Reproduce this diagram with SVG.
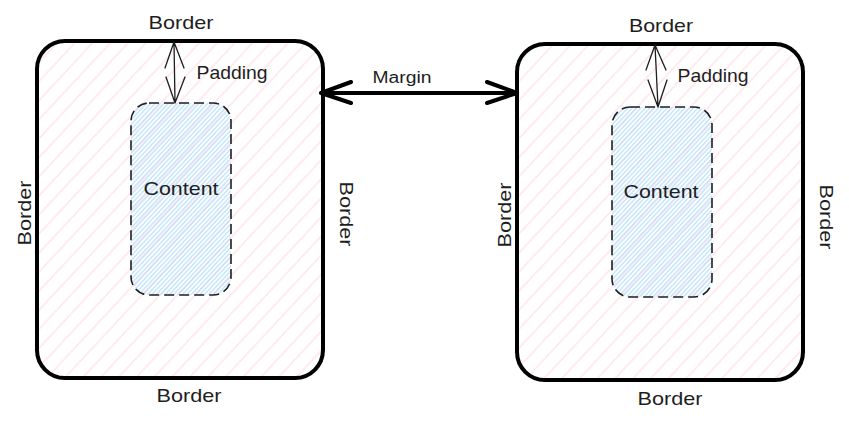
<svg xmlns="http://www.w3.org/2000/svg" width="849" height="424" viewBox="0 0 849 424">
<defs>
<pattern id="pinkHatch" patternUnits="userSpaceOnUse" width="13" height="13" patternTransform="rotate(-47)">
<line x1="0" y1="6" x2="13" y2="6" stroke="#ffe2e8" stroke-width="1.4"/>
</pattern>
<pattern id="blueHatch" patternUnits="userSpaceOnUse" width="3.2" height="3.2" patternTransform="rotate(-47)">
<line x1="0" y1="1.6" x2="3.2" y2="1.6" stroke="#a8d8fc" stroke-width="1"/>
</pattern>
<style>
.box{fill:url(#pinkHatch);stroke:#000;stroke-width:4}
.content{fill:url(#blueHatch);stroke:#1e1e1e;stroke-width:1.6;stroke-dasharray:10 5}
.lbl{font-family:"Liberation Sans",Arial,sans-serif;font-size:19px;fill:#1e1e1e;text-anchor:middle}
.thin{stroke:#1e1e1e;stroke-width:1.3;fill:none;stroke-linecap:round}
.thick{stroke:#000;stroke-width:4;fill:none;stroke-linecap:round;stroke-linejoin:round}
</style>
</defs>
<rect width="849" height="424" fill="#fff"/>

<g id="left-box">
<rect class="box" x="37" y="41" width="286" height="337" rx="28"/>
<text class="lbl" x="181" y="29" textLength="65" lengthAdjust="spacingAndGlyphs">Border</text>
<text class="lbl" x="189" y="402" textLength="65" lengthAdjust="spacingAndGlyphs">Border</text>
<text class="lbl" transform="translate(31,213) rotate(-90)" x="0" y="0" textLength="65" lengthAdjust="spacingAndGlyphs">Border</text>
<text class="lbl" transform="translate(340,214) rotate(90)" x="0" y="0" textLength="65" lengthAdjust="spacingAndGlyphs">Border</text>
<text class="lbl" x="232" y="79" textLength="71" lengthAdjust="spacingAndGlyphs">Padding</text>
</g>
<g id="left-content">
<rect class="content" x="131" y="103" width="100" height="192" rx="18"/>
<text class="lbl" x="181" y="195" textLength="75" lengthAdjust="spacingAndGlyphs">Content</text>
</g>

<g id="right-box">
<rect class="box" x="517" y="44" width="286" height="336" rx="28"/>
<text class="lbl" x="661" y="32" textLength="64" lengthAdjust="spacingAndGlyphs">Border</text>
<text class="lbl" x="670" y="405" textLength="65" lengthAdjust="spacingAndGlyphs">Border</text>
<text class="lbl" transform="translate(511,215) rotate(-90)" x="0" y="0" textLength="65" lengthAdjust="spacingAndGlyphs">Border</text>
<text class="lbl" transform="translate(820,217) rotate(90)" x="0" y="0" textLength="65" lengthAdjust="spacingAndGlyphs">Border</text>
<text class="lbl" x="713" y="82" textLength="71" lengthAdjust="spacingAndGlyphs">Padding</text>
</g>
<g id="right-content">
<rect class="content" x="612" y="107" width="100" height="190" rx="18"/>
<text class="lbl" x="661" y="198" textLength="75" lengthAdjust="spacingAndGlyphs">Content</text>
</g>

<g id="connectors">
<g id="left-padding-arrow">
<path class="thin" d="M174 42 L175 103 M174 42 L165 68 M174 42 L184 68 M175 103 L166 77 M175 103 L185 77"/>
</g>
<g id="right-padding-arrow">
<path class="thin" d="M655 45 L658 107 M655 45 L646 70 M655 45 L666 70 M658 107 L648 80 M658 107 L667 80"/>
</g>
<g id="margin-arrow">
<path class="thick" d="M321 93 L517 93 M321 93 L351 82 M321 93 L351 103 M517 93 L487 82 M517 93 L487 103"/>
<text class="lbl" x="402" y="83" style="font-size:16px" textLength="59" lengthAdjust="spacingAndGlyphs">Margin</text>
</g>
</g>
</svg>
